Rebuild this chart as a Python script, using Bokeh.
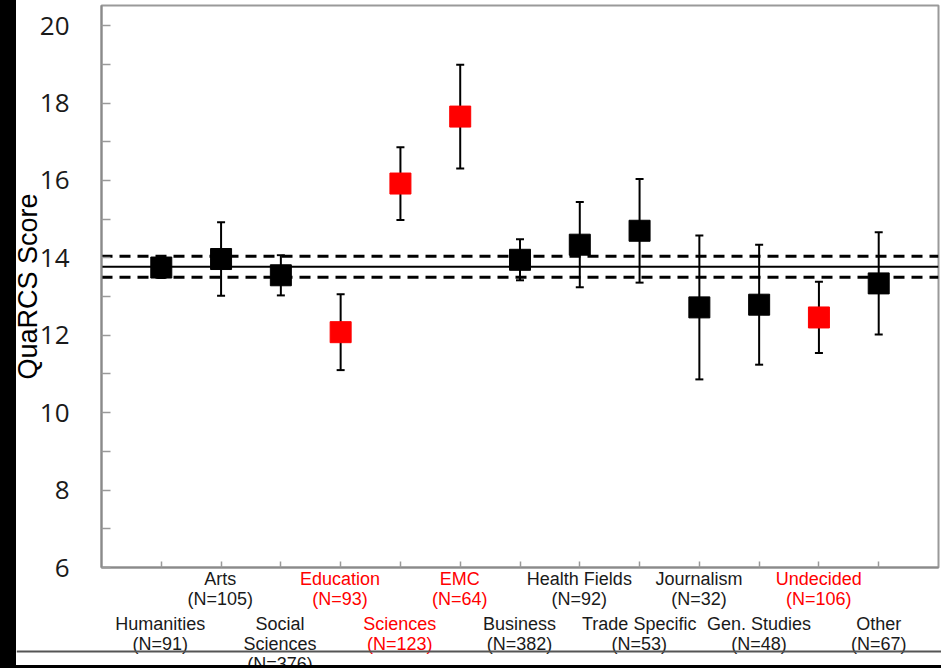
from bokeh.plotting import figure
from bokeh.models import (Range1d, FixedTicker, Whisker, ColumnDataSource, Span, Spacer, TeeHead)
from bokeh.core.properties import value
from bokeh.layouts import row, column
from bokeh.embed import file_html
from bokeh.resources import INLINE

# ---------------- data ----------------
label_lines = [["Humanities"], ["Arts"], ["Social", "Sciences"], ["Education"],
               ["Sciences"], ["EMC"], ["Business"], ["Health Fields"],
               ["Trade Specific"], ["Journalism"], ["Gen. Studies"], ["Undecided"], ["Other"]]
n_counts = [91, 105, 376, 93, 123, 64, 382, 92, 53, 32, 48, 106, 67]
mean_scores = [13.75, 13.97, 13.55, 12.08, 15.92, 17.65, 13.95, 14.34, 14.70, 12.72, 12.79, 12.46, 13.34]
ci_half = [0.27, 0.95, 0.52, 0.98, 0.94, 1.34, 0.53, 1.10, 1.34, 1.86, 1.55, 0.92, 1.32]
highlighted = [False, False, False, True, True, True, False, False, False, False, False, True, False]
overall_mean = 13.77
overall_ci = 0.27
y_ticks = [6, 8, 10, 12, 14, 16, 18, 20]
y_minor = [7, 9, 11, 13, 15, 17, 19]

# ---------------- layout constants ----------------
STRIP = 16         # black strip on the left
SHIFT = 7          # plot canvas starts this far inside the black strip
W = 941 - STRIP + SHIFT
BL, BR = 84 + SHIFT, 3
X0, X1 = 0, 14
OVER = 20          # overlap of label strip over the main plot's bottom border
H_MAIN = 569 + OVER
H_LAB = 96
ppx = (W - BL - BR) / (X1 - X0)

# ---------------- main plot ----------------
xs = list(range(1, len(mean_scores) + 1))
colors = ["#ff0000" if h else "#000000" for h in highlighted]
src = ColumnDataSource(dict(
    x=xs, y=mean_scores,
    lo=[m - e for m, e in zip(mean_scores, ci_half)],
    hi=[m + e for m, e in zip(mean_scores, ci_half)],
    color=colors))

p = figure(width=W, height=H_MAIN, x_range=Range1d(X0, X1), y_range=Range1d(6, 20.52),
           output_backend="svg", toolbar_location=None,
           min_border_left=BL, min_border_right=BR, min_border_top=5,
           min_border_bottom=2 + OVER)
p.xgrid.visible = False
p.ygrid.visible = False
p.outline_line_color = "#9a9a9a"
p.outline_line_width = 2
p.background_fill_color = "white"
p.border_fill_color = None

ya = p.yaxis[0]
ya.ticker = FixedTicker(ticks=y_ticks, minor_ticks=y_minor)
ya.major_tick_in = 9
ya.major_tick_out = 0
ya.minor_tick_in = 9
ya.minor_tick_out = 0
ya.major_tick_line_color = "#9a9a9a"
ya.minor_tick_line_color = "#9a9a9a"
ya.major_tick_line_width = 1.5
ya.minor_tick_line_width = 1.5
ya.axis_line_color = "#8a8a8a"
ya.axis_line_width = 2
ya.major_label_text_font = "Open Sans"
ya.major_label_text_font_size = "26px"
ya.major_label_text_color = "#1a1a1a"
ya.major_label_standoff = 32
ya.axis_label = "QuaRCS Score"
ya.axis_label_text_font = "Liberation Sans"
ya.axis_label_text_font_size = "27px"
ya.axis_label_text_font_style = "normal"
ya.axis_label_text_color = "#000000"
ya.axis_label_standoff = -6

xa = p.xaxis[0]
xa.ticker = FixedTicker(ticks=xs, minor_ticks=[])
xa.major_tick_in = 6
xa.major_tick_out = 0
xa.major_tick_line_color = "#9a9a9a"
xa.major_tick_line_width = 1.5
xa.axis_line_color = "#8a8a8a"
xa.axis_line_width = 2
xa.major_label_overrides = {i: "" for i in xs}
xa.major_label_standoff = 0

# reference lines
p.add_layout(Span(location=overall_mean, dimension="width", line_color="black",
                  line_width=2, level="underlay"))
for loc in (overall_mean + overall_ci, overall_mean - overall_ci):
    p.add_layout(Span(location=loc, dimension="width", line_color="black",
                      line_width=3, line_dash="11 7", level="underlay"))

# error bars
p.add_layout(Whisker(base="x", upper="hi", lower="lo", source=src,
                     line_color="black", line_width=2, level="underlay",
                     upper_head=TeeHead(size=8, line_width=2, line_color="black"),
                     lower_head=TeeHead(size=8, line_width=2, line_color="black")))

# markers
p.scatter("x", "y", source=src, marker="square", size=21,
          fill_color="color", line_color="color")

# ---------------- category label strip ----------------
lx, ly, lt, lc = [], [], [], []
for i, (lines, n) in enumerate(zip(label_lines, n_counts)):
    all_lines = lines + [f"(N={n})"]
    base_px = 9 if i % 2 == 1 else 54
    col = colors[i] if highlighted[i] else "#1a1a1a"
    for k, t in enumerate(all_lines):
        lx.append(xs[i])
        ly.append(base_px + 20 * k)
        lt.append(t)
        lc.append(col)
lab_src = ColumnDataSource(dict(x=lx, y=ly, text=lt, color=lc))

q = figure(width=W, height=H_LAB,
           x_range=Range1d(X0 - (BL - SHIFT) / ppx, X1 + BR / ppx), y_range=Range1d(H_LAB, 0),
           output_backend="svg", toolbar_location=None,
           x_axis_location=None, y_axis_location=None,
           min_border_left=SHIFT, min_border_right=0, min_border_top=0, min_border_bottom=0)
q.grid.visible = False
q.outline_line_color = None
q.background_fill_color = None
q.border_fill_color = None
q.add_layout(Span(location=82, dimension="width", line_color="#555555", line_width=2))
q.text("x", "y", text="text", source=lab_src, text_color="color",
       text_font=value("Liberation Sans"), text_font_size=value("18px"),
       text_align="center", text_baseline="middle")

left_bar = Spacer(width=STRIP, height=H_MAIN - OVER + H_LAB, styles={"background-color": "black"})
q_box = row(q, spacing=0, margin=(-OVER, 0, 0, 0))
plots = column(p, q_box, spacing=0, margin=(0, 0, 0, -SHIFT))
bottom_bar = Spacer(width=941, height=668 - (H_MAIN - OVER + H_LAB),
                    styles={"background-color": "black"})
layout = column(row(left_bar, plots, spacing=0), bottom_bar, spacing=0)

open("out.html", "w").write(file_html(layout, INLINE))
